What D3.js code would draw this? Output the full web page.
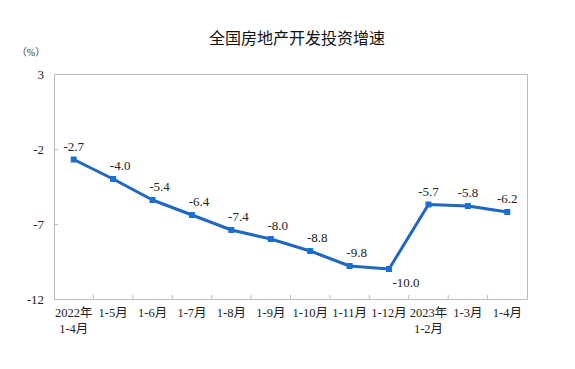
<!DOCTYPE html>
<html>
<head>
<meta charset="utf-8">
<script src="https://cdn.jsdelivr.net/npm/d3@7"></script>
<style>
  body { margin: 0; background: #fff; }
  text { font-family: "Liberation Serif", "Noto Sans CJK SC", serif; }
</style>
</head>
<body>
<div id="chart"></div>
<script>
const title = "全国房地产开发投资增速";
const unitLabel = "（%）";
const categories = [
  ["2022年", "1-4月"], ["1-5月"], ["1-6月"], ["1-7月"], ["1-8月"], ["1-9月"],
  ["1-10月"], ["1-11月"], ["1-12月"], ["2023年", "1-2月"], ["1-3月"], ["1-4月"]
];
const values = [-2.7, -4.0, -5.4, -6.4, -7.4, -8.0, -8.8, -9.8, -10.0, -5.7, -5.8, -6.2];
const yTicks = [3, -2, -7, -12];

const W = 575, H = 369;
const margins = { t: 74, b: 70, l: 54, r: 48 };
const chartdims = { width: W - margins.l - margins.r, height: H - margins.t - margins.b };

const svg = d3.select("#chart").append("svg").attr("width", W).attr("height", H);

svg.append("text")
  .attr("x", 297).attr("y", 44)
  .attr("text-anchor", "middle")
  .style("font-family", "'Noto Sans CJK SC', sans-serif")
  .style("font-size", "16px")
  .attr("fill", "#111")
  .text(title);

svg.append("text")
  .attr("x", 31).attr("y", 56)
  .attr("text-anchor", "middle")
  .style("font-size", "10px")
  .attr("fill", "#333")
  .text(unitLabel);

const plotg = svg.append("g").attr("transform", `translate(${margins.l},${margins.t})`);

const xScale = d3.scaleBand().domain(d3.range(categories.length)).range([0, chartdims.width]);
const yScale = d3.scaleLinear().domain([3, -12]).range([0, chartdims.height]);

// frame
plotg.append("rect")
  .attr("x", 0).attr("y", 0)
  .attr("width", chartdims.width).attr("height", chartdims.height)
  .attr("fill", "none").attr("stroke", "#bdbdbd").attr("stroke-width", 1)
  .attr("shape-rendering", "crispEdges");

// y axis
const yAxis = d3.axisLeft(yScale).tickValues(yTicks).tickSize(-4).tickPadding(10).tickFormat(d => String(d));
const yaxisg = plotg.append("g").call(yAxis);
yaxisg.select(".domain").remove();
yaxisg.selectAll("line").attr("stroke", "#bdbdbd");
yaxisg.selectAll("text").style("font-size", "13px").attr("fill", "#222")
  .style("font-family", "'Liberation Serif', serif");

// x axis ticks at band boundaries
const xaxisg = plotg.append("g").attr("transform", `translate(0,${chartdims.height})`);
xaxisg.selectAll(".xtick")
  .data(d3.range(1, categories.length))
  .join("line")
  .attr("x1", i => xScale(i)).attr("x2", i => xScale(i))
  .attr("y1", 0).attr("y2", -4)
  .attr("stroke", "#bdbdbd");

xaxisg.selectAll(".xlabel")
  .data(categories)
  .join("text")
  .attr("text-anchor", "middle")
  .attr("fill", "#222")
  .style("font-size", "12.5px")
  .attr("transform", (d, i) => `translate(${xScale(i) + xScale.bandwidth() / 2},18)`)
  .selectAll("tspan")
  .data(d => d)
  .join("tspan")
  .attr("x", 0)
  .attr("dy", (d, j) => j === 0 ? 0 : 16)
  .text(d => d);

const cx = i => xScale(i) + xScale.bandwidth() / 2;

const lineGen = d3.line().x((d, i) => cx(i)).y(d => yScale(d));

plotg.append("path")
  .datum(values)
  .attr("d", lineGen)
  .attr("fill", "none")
  .attr("stroke", "#1f67c0")
  .attr("stroke-width", 3)
  .attr("stroke-linejoin", "round");

plotg.selectAll(".marker")
  .data(values)
  .join("rect")
  .attr("x", (d, i) => cx(i) - 3)
  .attr("y", d => yScale(d) - 3)
  .attr("width", 6).attr("height", 6)
  .attr("fill", "#1a6fd4");

// data labels: above, lowest point below
const minVal = d3.min(values);
plotg.selectAll(".dlabel")
  .data(values)
  .join("text")
  .attr("text-anchor", "middle")
  .attr("fill", "#222")
  .style("font-size", "13px")
  .attr("x", (d, i) => {
    if (d === minVal) return cx(i) + 17;
    if (i > 0 && i < categories.length - 3) return cx(i) + 7;
    return cx(i);
  })
  .attr("y", d => d === minVal ? yScale(d) + 18 : yScale(d) - 9)
  .text(d => d.toFixed(1));
</script>
</body>
</html>
